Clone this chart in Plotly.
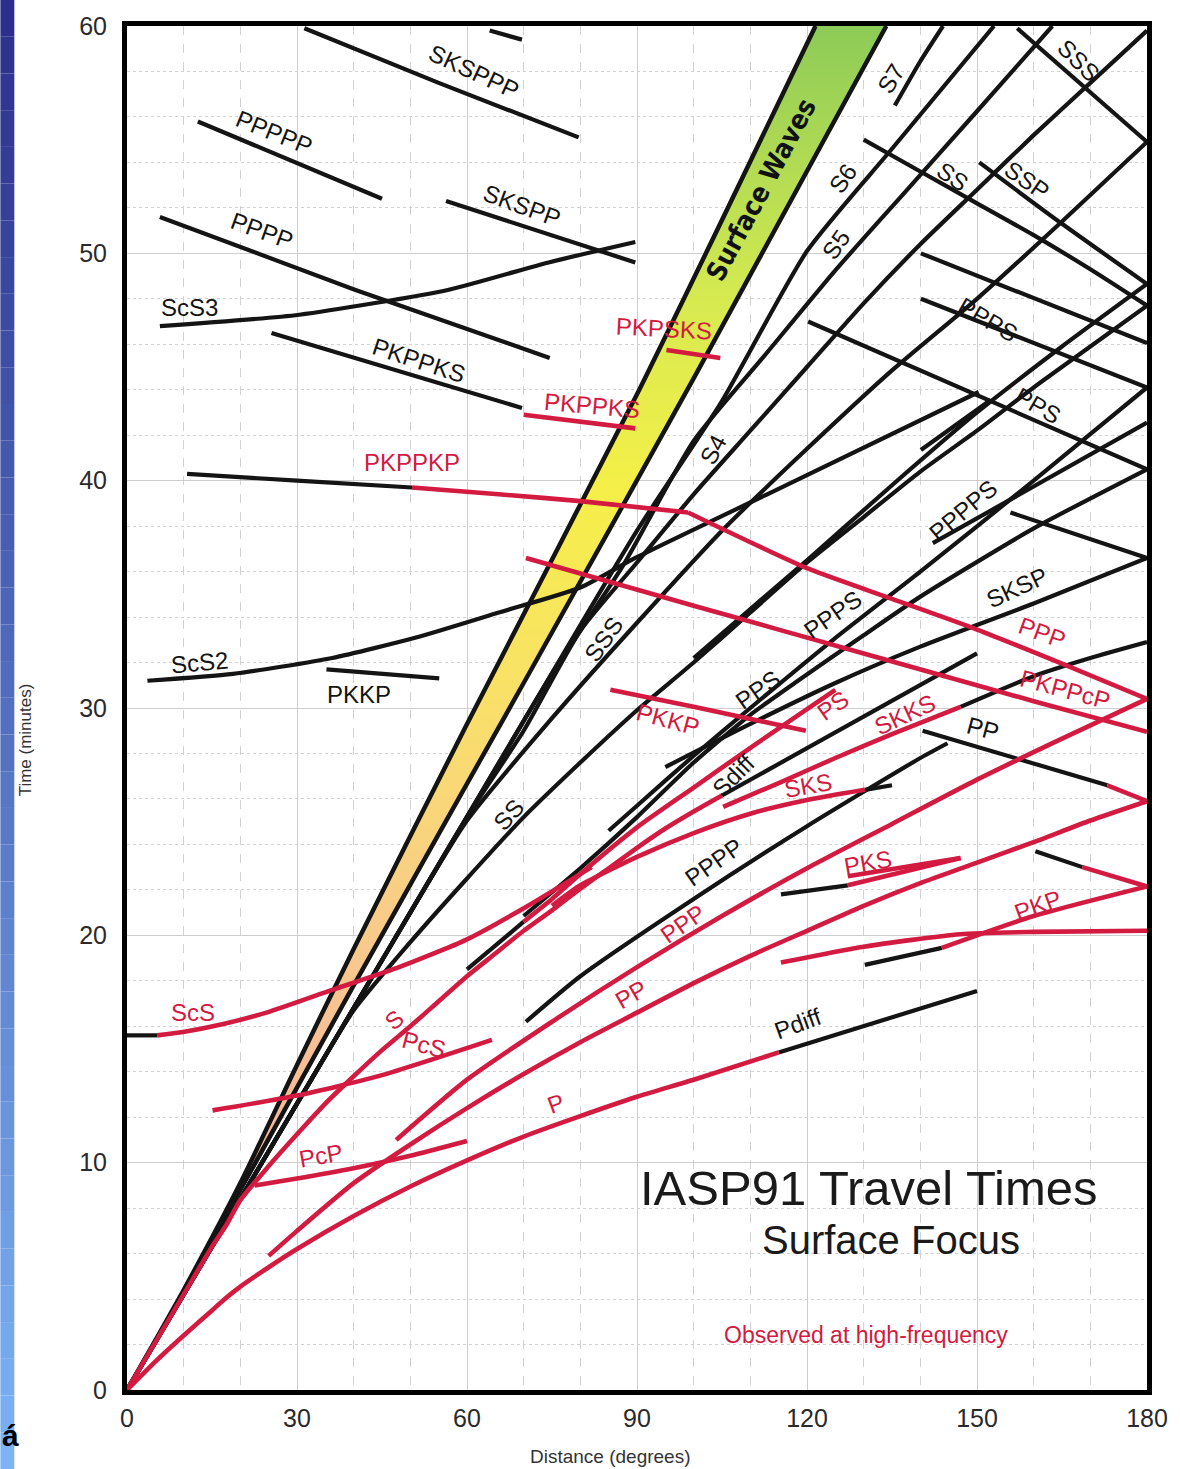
import plotly.graph_objects as go

RED = "#d31a40"
INK = "#141414"
LABEL_FONT = "Liberation Sans, Arial, sans-serif"
NARROW_FONT = "Liberation Sans Narrow, Liberation Sans, Arial, sans-serif"

# ---- values: distance (degrees), travel time (minutes) ----
band_left_deg = [0, 10, 20, 30, 40, 60, 90, 121.5]
band_left_min = [0, 4.4, 9.1, 14.3, 19.4, 29.3, 43.8, 60]
band_right_deg = [0, 10, 20, 40, 70, 100, 134]
band_right_min = [0, 4.3, 8.8, 17.8, 31.1, 44.5, 60]

# black (theoretical) branches
sksppp = ([31.3, 55.0, 79.7], [59.9, 57.5, 55.1])
top_stub = ([64.0, 69.7], [59.8, 59.4])
ppppp = ([12.5, 45.0], [55.8, 52.4])
skspp = ([56.3, 89.7], [52.3, 49.6])
pppp_far = ([5.8, 40.2, 74.6], [51.6, 48.4, 45.4])
scs3 = ([5.8, 30.4, 56.8, 74.4, 89.7], [46.8, 47.3, 48.4, 49.6, 50.5])
pkppks_blk = ([25.5, 69.7], [46.5, 43.2])
pkppkp_blk = ([10.6, 30.0, 50.3], [40.3, 40.0, 39.7])
scs2 = ([3.6, 18.7, 36.2, 51.0, 65.6, 80.0, 89.7, 113.8, 150.3],
        [31.2, 31.5, 32.2, 33.1, 34.2, 35.3, 36.6, 39.5, 43.9])
pkkp_blk = ([35.2, 55.1], [31.7, 31.3])
scs_blk = ([0, 5.3], [15.6, 15.6])

ss = ([0, 10, 20, 30, 40, 50, 60, 70, 80, 90, 100, 110, 120, 130, 140, 150, 160, 170, 180],
      [0, 4.2, 8.4, 12.6, 16.7, 19.7, 22.5, 25.2, 27.6, 29.9, 32.0, 34.2, 36.4, 38.4, 40.4, 42.2, 44.1, 45.9, 47.7])
sss = ([0, 15, 30, 45, 60, 75, 90, 105, 120, 135, 150, 165, 180],
       [0, 6.3, 12.6, 18.9, 25.05, 29.55, 33.75, 37.8, 41.4, 44.85, 48.0, 51.4, 54.9])
s4 = ([0, 20, 40, 60, 70, 80, 90, 100, 110, 120, 130, 140, 150, 160, 170, 180],
      [0, 8.4, 16.8, 25.2, 29.0, 33.4, 36.4, 39.4, 42.2, 45.0, 47.8, 50.4, 52.8, 55.2, 57.5, 59.8])
s5 = ([0, 25, 50, 75, 87.5, 100, 112.5, 125, 137.5, 150, 163.3],
      [0, 10.5, 21.0, 31.5, 36.25, 41.75, 45.5, 49.25, 52.75, 56.25, 60.0])
s6 = ([0, 60, 90, 105, 120, 135, 153], [0, 25.2, 37.8, 43.5, 50.1, 54.6, 60.0])
s7 = ([135.5, 140, 144], [56.5, 58.45, 60.0])

sss_desc = ([157.1, 180], [59.9, 54.9])
ss_desc = ([130, 140, 150, 160, 170, 180], [55.0, 53.6, 52.2, 50.8, 49.3, 47.7])
ssp_desc = ([150.4, 165, 180], [54.0, 51.3, 48.65])
ssp = ([100, 120, 135, 150, 165, 180], [32.2, 36.5, 39.8, 43.0, 45.9, 48.65])
upper_desc = ([140.1, 180], [50.0, 46.05])
ppps_desc = ([140.1, 180], [48.0, 44.1])
pps_desc = ([120.2, 180], [47.0, 40.5])
sksp_desc = ([155.9, 180], [38.6, 36.6])
short_mid = ([140.1, 152.4], [41.35, 43.55])
pps = ([70, 80, 90, 100, 110, 118.4, 130, 140, 160, 180],
       [20.85, 22.95, 25.2, 27.6, 29.7, 31.2, 33.2, 34.9, 37.9, 40.5])
ppps = ([85, 90, 100, 110, 124.6, 140, 160, 180], [24.6, 25.7, 27.9, 30.0, 33.0, 36.0, 40.0, 44.1])
pppps = ([142.2, 180], [37.25, 42.55])
sksp = ([95, 110, 125, 140, 160, 180], [27.4, 29.3, 31.1, 32.7, 34.6, 36.6])
sdiff = ([105, 150], [26.15, 32.4])
pppp_near = ([70.4, 80, 100, 120, 140, 144.8], [16.2, 18.2, 21.6, 24.8, 27.8, 28.45])
sks_blk = ([130.2, 135], [26.4, 26.6])
skks_blk = ([147.1, 160, 170, 180], [30.05, 31.4, 32.2, 32.9])
pks_blk = ([115.4, 127.2], [21.8, 22.2])
pkp_bc = ([130.2, 143.8], [18.7, 19.45])
pkp_desc_blk = ([160.3, 168.6], [23.7, 23.0])
pp_desc_blk = ([140.4, 173], [29.0, 26.6])
pdiff = ([115, 150], [14.85, 17.55])
ps_blk = ([60, 70], [18.5, 20.6])

# red (observed at high frequency) branches
p_red = ([0, 5, 10, 15, 17, 20, 25, 30, 40, 50, 60, 70, 80, 90, 100, 115],
         [0, 1.25, 2.4, 3.5, 3.95, 4.55, 5.4, 6.2, 7.65, 8.95, 10.1, 11.15, 12.05, 12.9, 13.65, 14.85])
pcp = ([22.5, 30, 40, 50, 60], [9.0, 9.3, 9.75, 10.3, 10.95])
pcs = ([15.1, 30, 45, 64.4], [12.3, 12.95, 13.85, 15.4])
scs = ([5.3, 9.9, 17, 24.6, 36.2, 48, 59.8, 70.4, 82],
       [15.6, 15.75, 16.1, 16.6, 17.6, 18.6, 19.8, 21.25, 23.0])
s_red = ([0, 5, 10, 15, 17.5, 20, 25, 30, 35, 40, 45, 50, 55, 60, 65, 70, 75, 80, 85, 90, 95, 100, 105],
         [0, 2.1, 4.2, 6.3, 7.25, 8.35, 9.85, 11.25, 12.6, 13.8, 14.95, 16.0, 17.1, 18.2, 19.2, 20.2,
          21.1, 22.05, 22.95, 23.85, 24.7, 25.45, 26.15])
pp = ([25, 30, 40, 50, 60, 70, 80, 90, 100, 110, 120, 130, 140, 150, 160, 170, 180],
      [5.9, 7.0, 9.1, 10.8, 12.4, 13.9, 15.3, 16.6, 17.9, 19.1, 20.2, 21.3, 22.3, 23.2, 24.1, 25.05, 25.9])
pp_desc_red = ([173, 180], [26.6, 25.9])
ppp = ([47.5, 60, 75, 90, 105, 120, 135, 150, 165, 180],
       [11.0, 13.65, 16.2, 18.6, 20.85, 22.95, 24.9, 26.85, 28.65, 30.4])
ppp_desc = ([99, 120, 135, 150, 165, 180], [38.6, 36.15, 34.8, 33.45, 31.95, 30.4])
pkppkp_red = ([50.3, 65.6, 80, 99], [39.7, 39.4, 39.1, 38.6])
pkppks_red = ([70, 89.7], [42.9, 42.3])
pkpsks = ([95.2, 104.7], [45.75, 45.4])
pkppcp = ([70.4, 100, 130, 160, 180], [36.6, 34.5, 32.4, 30.3, 28.95])
pkkp_red = ([85.3, 100, 119.8], [30.8, 30.05, 29.0])
ps = ([70, 75, 80, 90, 100, 110, 120, 125], [20.6, 21.6, 22.7, 24.75, 26.5, 28.25, 29.95, 30.8])
sks = ([75, 80, 90, 100, 110, 120, 130.2], [21.3, 22.2, 23.45, 24.5, 25.35, 25.95, 26.4])
skks = ([105.2, 115, 125, 135, 147.1], [25.65, 26.7, 27.8, 28.85, 30.05])
pks_a = ([127.2, 147.1], [22.2, 23.4])
pks_b = ([127.2, 147.1], [22.6, 23.4])
pkikp = ([115.4, 130, 147, 160, 180], [18.8, 19.5, 20.05, 20.15, 20.2])
pkp_ab = ([143.8, 160, 180], [19.45, 20.85, 22.15])
pkp_desc_red = ([168.6, 180], [23.0, 22.15])

black_curves = [sksppp, top_stub, ppppp, skspp, pppp_far, scs3, pkppks_blk, pkppkp_blk, scs2,
                pkkp_blk, scs_blk, ss, sss, s4, s5, s6, s7, sss_desc, ss_desc, ssp_desc, ssp,
                upper_desc, ppps_desc, pps_desc, sksp_desc, short_mid, pps, ppps, pppps, sksp,
                sdiff, pppp_near, sks_blk, skks_blk, pks_blk, pkp_bc, pkp_desc_blk, pp_desc_blk,
                pdiff, ps_blk]
red_curves = [p_red, pcp, pcs, scs, s_red, pp, pp_desc_red, ppp, ppp_desc, pkppkp_red, pkppks_red,
              pkpsks, pkppcp, pkkp_red, ps, sks, skks, pks_a, pks_b, pkikp, pkp_ab, pkp_desc_red]

# phase names: (text, distance, time, angle, colour)
phase_labels = [
    ("SKSPPP", 61.2, 58.0, 25, INK), ("PPPPP", 26.0, 55.3, 22, INK), ("SKSPP", 69.7, 52.1, 20, INK),
    ("PPPP", 23.8, 51.0, 20, INK), ("ScS3", 11.1, 47.6, 0, INK), ("PKPPKS", 51.6, 45.3, 18, INK),
    ("ScS2", 12.8, 32.0, -5, INK), ("PKKP", 41.0, 30.6, 0, INK), ("SSS", 84.1, 33.0, -55, INK),
    ("SS", 67.4, 25.3, -48, INK), ("S4", 103.5, 41.35, -62, INK), ("S5", 125.1, 50.4, -55, INK),
    ("S6", 126.3, 53.3, -55, INK), ("S7", 134.8, 57.7, -58, INK), ("SS", 145.7, 53.4, 35, INK),
    ("SSP", 158.9, 53.2, 35, INK), ("SSS", 168.0, 58.5, 45, INK), ("PPPS", 151.9, 47.1, 30, INK),
    ("PPS", 160.7, 43.3, 30, INK), ("PPPPS", 147.5, 38.7, -40, INK), ("PPPS", 124.6, 34.1, -35, INK),
    ("SKSP", 157.1, 35.3, -25, INK), ("PPS", 111.4, 30.8, -35, INK), ("PP", 151.0, 29.1, 15, INK),
    ("Sdiff", 107.0, 27.05, -45, INK), ("PPPP", 103.5, 23.2, -35, INK), ("Pdiff", 118.4, 16.1, -20, INK),
    ("PKPSKS", 94.7, 46.7, 3, RED), ("PKPPKS", 82.0, 43.3, 5, RED), ("PKPPKP", 50.3, 40.8, 0, RED),
    ("PPP", 161.5, 33.3, 20, RED), ("PKPPcP", 165.6, 30.8, 15, RED), ("PKKP", 95.5, 29.5, 15, RED),
    ("PS", 124.6, 30.1, -35, RED), ("SKKS", 137.3, 29.7, -25, RED), ("SKS", 120.2, 26.6, -10, RED),
    ("PKS", 130.7, 23.2, -10, RED), ("PKP", 160.7, 21.3, -20, RED), ("PPP", 98.2, 20.5, -35, RED),
    ("PP", 88.9, 17.4, -30, RED), ("P", 75.7, 12.6, -20, RED), ("ScS", 11.6, 16.6, 0, RED),
    ("S", 47.2, 16.3, -40, RED), ("PcS", 52.4, 15.2, 15, RED), ("PcP", 34.3, 10.3, -10, RED),
]

fig = go.Figure()


def add_curve(curve, color, width=4.2):
    deg, mins = curve
    fig.add_trace(go.Scatter(
        x=deg, y=mins, mode="lines",
        line=dict(color=color, width=width, shape="spline", smoothing=0.6),
        hoverinfo="skip", showlegend=False,
    ))


# surface wave band, shaded pink -> yellow -> green going up
fig.add_trace(go.Scatter(
    x=band_left_deg + band_right_deg[::-1],
    y=band_left_min + band_right_min[::-1],
    mode="lines", line=dict(width=0), fill="toself",
    fillgradient=dict(type="vertical", colorscale=[
        [0.0, "#f2a8a6"], [0.18, "#f5b79e"], [0.35, "#f8cc88"], [0.5, "#f9df6a"],
        [0.66, "#f5ef48"], [0.8, "#d6ea50"], [1.0, "#8ccb57"]]),
    hoverinfo="skip", showlegend=False,
))
add_curve((band_left_deg, band_left_min), INK, 4.5)
add_curve((band_right_deg, band_right_min), INK, 4.5)

for c in black_curves:
    add_curve(c, INK)
for c in red_curves:
    add_curve(c, RED, 4.6)

for text, x, y, ang, col in phase_labels:
    fig.add_annotation(x=x, y=y, text=text, showarrow=False, textangle=ang,
                       font=dict(family=LABEL_FONT, size=24, color=col))

fig.add_annotation(x=111.9, y=52.8, text="<b>Surface Waves</b>", showarrow=False, textangle=-62,
                   font=dict(family="DejaVu Sans Condensed, Liberation Sans Narrow, sans-serif",
                             size=27, color="#111111"))
fig.add_annotation(x=131.0, y=8.9, text="IASP91 Travel Times", showarrow=False,
                   font=dict(family=LABEL_FONT, size=49, color="#1a1a1a"))
fig.add_annotation(x=134.8, y=6.6, text="Surface Focus", showarrow=False,
                   font=dict(family=LABEL_FONT, size=40, color="#1a1a1a"))
fig.add_annotation(x=130.4, y=2.4, text="Observed at high-frequency", showarrow=False,
                   font=dict(family=NARROW_FONT, size=23, color=RED))

# axis titles
fig.add_annotation(xref="paper", yref="paper", x=-0.0997, y=0.4765, xanchor="center", yanchor="middle",
                   text="Time (minutes)", textangle=-90, showarrow=False,
                   font=dict(family=LABEL_FONT, size=17, color="#333"))
fig.add_annotation(xref="paper", yref="paper", x=0.474, y=-0.049, xanchor="center", yanchor="middle",
                   text="Distance (degrees)", showarrow=False,
                   font=dict(family=LABEL_FONT, size=19, color="#333"))

# blue slide strip on the left edge
n_strip = 40
y_top, y_bot = 1390 / 1364, -79 / 1364
for i in range(n_strip):
    t = i / (n_strip - 1)
    r = int(44 + (125 - 44) * t)
    g = int(48 + (178 - 48) * t)
    b = int(140 + (245 - 140) * t)
    y0 = y_top - (y_top - y_bot) * i / n_strip
    y1 = y_top - (y_top - y_bot) * (i + 1) / n_strip
    fig.add_shape(type="rect", xref="paper", yref="paper", x0=-127 / 1023, x1=(14 - 127) / 1023,
                  y0=y1, y1=y0, line=dict(width=0), fillcolor=f"rgb({r},{g},{b})", layer="below")
fig.add_annotation(xref="paper", yref="paper", x=(10 - 127) / 1023, y=-0.033, xanchor="center",
                   yanchor="middle", text="<b>á</b>", showarrow=False,
                   font=dict(family=LABEL_FONT, size=30, color="#000"))

axis_common = dict(
    showline=True, linewidth=5, linecolor="#000", mirror=True,
    showgrid=True, gridcolor="#cdcdcd", gridwidth=1.2, zeroline=False,
    ticks="outside", tickcolor="rgba(0,0,0,0)",
    tickfont=dict(family=LABEL_FONT, size=25, color="#2a2a2a"),
)
fig.update_xaxes(range=[0, 180], tickmode="array", tickvals=[0, 30, 60, 90, 120, 150, 180], ticklen=2,
                 minor=dict(tick0=0, dtick=10, showgrid=True, gridcolor="#d2d2d2", griddash="dash",
                            gridwidth=1),
                 **axis_common)
fig.update_yaxes(range=[0, 60], tickmode="array", tickvals=[0, 10, 20, 30, 40, 50, 60], ticklen=10,
                 minor=dict(tick0=0, dtick=2, showgrid=True, gridcolor="#d2d2d2", griddash="dot",
                            gridwidth=1),
                 **axis_common)

fig.update_layout(
    width=1180, height=1469,
    margin=dict(l=127, r=30, t=26, b=79),
    plot_bgcolor="white", paper_bgcolor="white",
    showlegend=False,
)

fig.write_html("out.html", config={"displayModeBar": False},
               post_script="document.body.style.margin='0px';")
